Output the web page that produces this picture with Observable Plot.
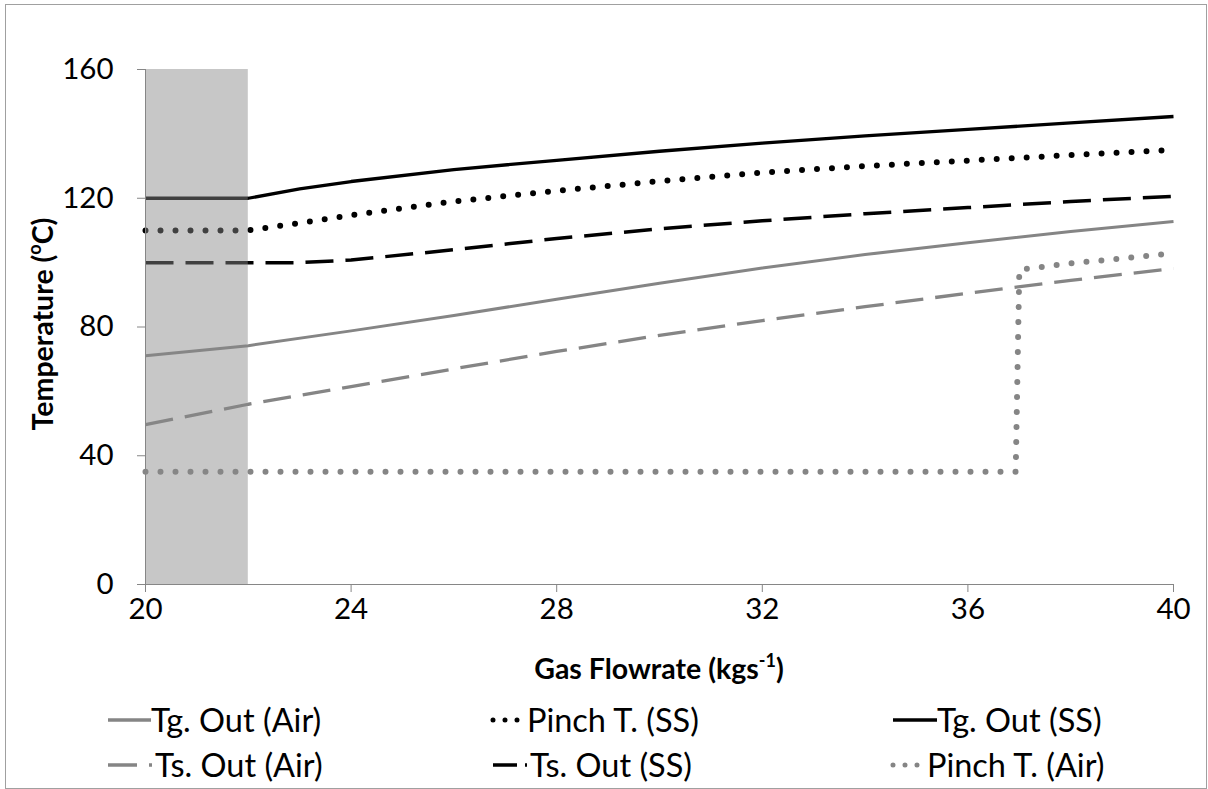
<!DOCTYPE html>
<html>
<head>
<meta charset="utf-8">
<script src="https://cdn.jsdelivr.net/npm/d3@7"></script>
<script src="https://cdn.jsdelivr.net/npm/@observablehq/plot@0.6"></script>
<style>
  html, body { margin: 0; padding: 0; background: #fff; }
  body { width: 1208px; height: 789px; position: relative; overflow: hidden; font-family: Lato, "Open Sans", sans-serif; }
  #frame { position: absolute; left: 5px; top: 4px; width: 1202px; height: 785px; box-sizing: border-box; border: 1px solid #a0a0a0; pointer-events: none; }
  #chart { position: absolute; left: 0; top: 0; }
  .leg { position: absolute; display: flex; align-items: center; font-size: 32.5px; line-height: 1; color: #000; white-space: nowrap; }
  .leg svg { display: block; flex: none; }
</style>
</head>
<body>
<div id="chart"></div>
<div id="legend"></div>
<div id="frame"></div>
<script>
// ---- data ----
const flowA = [20, 22, 24, 26, 28, 30, 32, 34, 36, 38, 40];
const tgOutAir = [71.1, 74.2, 78.8, 83.6, 88.6, 93.6, 98.3, 102.5, 106.2, 109.7, 112.8];
const tsOutAir = [49.7, 56.0, 61.5, 67.0, 72.4, 77.4, 82.0, 86.3, 90.5, 94.5, 98.2];
const flowTgSS = [20, 22, 23, 24, 26, 28, 30, 32, 34, 36, 38, 40];
const tgOutSS = [120, 120, 122.9, 125.2, 128.9, 131.8, 134.6, 137.1, 139.4, 141.4, 143.4, 145.4];
const flowPinchSS = [20, 22, 23, 24, 26, 28, 30, 32, 34, 36, 38, 40];
const pinchSS = [110, 110, 112.3, 114.7, 119.0, 122.3, 125.3, 128.0, 130.0, 131.7, 133.4, 135.0];
const flowTsSS = [20, 22, 23, 24, 26, 28, 30, 32, 34, 36, 38, 40];
const tsOutSS = [100, 100, 100, 100.8, 104.0, 107.5, 110.5, 113.0, 115.2, 117.1, 119.0, 120.6];
const flowPinchAir = [20, 36.93, 37.0, 38, 39, 40];
const pinchAir = [35, 35, 97.8, 99.8, 101.3, 102.9];
const bandStart = [20], bandEnd = [22];
const xTicks = [20, 24, 28, 32, 36, 40];
const yTicks = [0, 40, 80, 120, 160];

const seriesNames = ["Tg. Out (Air)", "Pinch T. (SS)", "Tg. Out (SS)", "Ts. Out (Air)", "Ts. Out (SS)", "Pinch T. (Air)"];

// ---- styles ----
const GRAY = "#858585", BLACK = "#000";
const styles = {
  "Tg. Out (Air)":  {stroke: GRAY,  dash: null,    width: 3,   cap: "butt"},
  "Pinch T. (SS)":  {stroke: BLACK, dash: "0 15",  width: 6,   cap: "round"},
  "Tg. Out (SS)":   {stroke: BLACK, dash: null,    width: 3.3, cap: "butt"},
  "Ts. Out (Air)":  {stroke: GRAY,  dash: "28 12", width: 3.3, cap: "butt"},
  "Ts. Out (SS)":   {stroke: BLACK, dash: "28 12", width: 3.5, cap: "butt"},
  "Pinch T. (Air)": {stroke: GRAY,  dash: "0 15",  width: 6,   cap: "round"}
};

const toRows = (xs, ys) => xs.map((x, i) => ({x, y: ys[i]}));
const series = {
  "Tg. Out (Air)": toRows(flowA, tgOutAir),
  "Pinch T. (SS)": toRows(flowPinchSS, pinchSS),
  "Tg. Out (SS)": toRows(flowTgSS, tgOutSS),
  "Ts. Out (Air)": toRows(flowA, tsOutAir),
  "Ts. Out (SS)": toRows(flowTsSS, tsOutSS),
  "Pinch T. (Air)": toRows(flowPinchAir, pinchAir)
};

const drawOrder = ["Pinch T. (Air)", "Ts. Out (Air)", "Tg. Out (Air)", "Ts. Out (SS)", "Pinch T. (SS)", "Tg. Out (SS)"];
const lineMarks = drawOrder.map(name => {
  const s = styles[name];
  return Plot.line(series[name], {
    x: "x", y: "y", stroke: s.stroke, strokeWidth: s.width,
    strokeDasharray: s.dash || undefined, strokeLinecap: s.cap, strokeLinejoin: "round"
  });
});

const band = bandStart.map((b, i) => ({x1: b, x2: bandEnd[i], y1: yTicks[0], y2: yTicks[yTicks.length - 1]}));

const chart = Plot.plot({
  width: 1208,
  height: 700,
  marginLeft: 145,
  marginRight: 35,
  marginTop: 69,
  marginBottom: 116,
  x: {domain: [20, 40]},
  y: {domain: [0, 160]},
  style: {fontFamily: "Lato, 'Open Sans', sans-serif", fontSize: "29.5px", color: "#000", background: "transparent", overflow: "visible"},
  marks: [
    ...lineMarks,
    Plot.rect(band, {x1: "x1", x2: "x2", y1: "y1", y2: "y2", fill: "#898989", fillOpacity: 0.47}),
    Plot.ruleX([20], {stroke: "#868686", strokeWidth: 1}),
    Plot.ruleY([0], {stroke: "#868686", strokeWidth: 1}),
    Plot.axisX({ticks: xTicks, tickSize: 8, tickPadding: 6, stroke: "#868686", fill: "#000", label: null, tickFormat: d => String(d)}),
    Plot.axisY({ticks: yTicks, tickSize: 8, tickPadding: 24, stroke: "#868686", fill: "#000", label: null, tickFormat: d => String(d)})
  ]
});
document.getElementById("chart").appendChild(chart);

// axis titles with superscripts
const svg = d3.select(chart);
const yt = svg.append("text")
  .attr("transform", "translate(46,324) rotate(-90)")
  .attr("text-anchor", "middle").attr("dominant-baseline", "middle")
  .attr("font-weight", "bold").attr("font-size", 28.5).attr("fill", "#000");
yt.append("tspan").text("Temperature (");
yt.append("tspan").attr("font-size", 18).attr("dy", -10).text("o");
yt.append("tspan").attr("dy", 10).text("C)");

const xt = svg.append("text")
  .attr("x", 659).attr("y", 672)
  .attr("text-anchor", "middle").attr("dominant-baseline", "middle")
  .attr("font-weight", "bold").attr("font-size", 28.5).attr("fill", "#000");
xt.append("tspan").text("Gas Flowrate (kgs");
xt.append("tspan").attr("font-size", 18).attr("dy", -10).text("-1");
xt.append("tspan").attr("dy", 10).text(")");

// legend (HTML, below the svg)
const legendPos = {
  "Tg. Out (Air)":  {left: 108, top: 720, sw: 43, gap: 0},
  "Pinch T. (SS)":  {left: 490, top: 720, sw: 30, gap: 7},
  "Tg. Out (SS)":   {left: 893, top: 720, sw: 44, gap: 0},
  "Ts. Out (Air)":  {left: 108, top: 765, sw: 44, gap: 3},
  "Ts. Out (SS)":   {left: 493, top: 765, sw: 34, gap: 3},
  "Pinch T. (Air)": {left: 890, top: 765, sw: 30, gap: 7}
};
const leg = document.getElementById("legend");
seriesNames.forEach(name => {
  const s = styles[name], p = legendPos[name];
  const div = document.createElement("div");
  div.className = "leg";
  div.style.left = p.left + "px";
  div.style.top = (p.top - 17) + "px";
  div.style.height = "34px";
  const ns = "http://www.w3.org/2000/svg";
  const sv = document.createElementNS(ns, "svg");
  sv.setAttribute("width", p.sw); sv.setAttribute("height", 12);
  const ln = document.createElementNS(ns, "line");
  const isDot = s.dash === "0 15";
  ln.setAttribute("x1", isDot ? 3 : 0); ln.setAttribute("x2", p.sw);
  ln.setAttribute("y1", 6); ln.setAttribute("y2", 6);
  ln.setAttribute("stroke", s.stroke);
  ln.setAttribute("stroke-width", isDot ? 5 : 3.3);
  ln.setAttribute("stroke-linecap", s.cap);
  if (isDot) ln.setAttribute("stroke-dasharray", "0 12");
  else if (s.dash) ln.setAttribute("stroke-dasharray", p.sw > 40 ? "29 12" : "24 8");
  sv.appendChild(ln);
  div.appendChild(sv);
  const t = document.createElement("span");
  t.textContent = name;
  t.style.marginLeft = p.gap + "px";
  div.appendChild(t);
  leg.appendChild(div);
});
</script>
</body>
</html>
